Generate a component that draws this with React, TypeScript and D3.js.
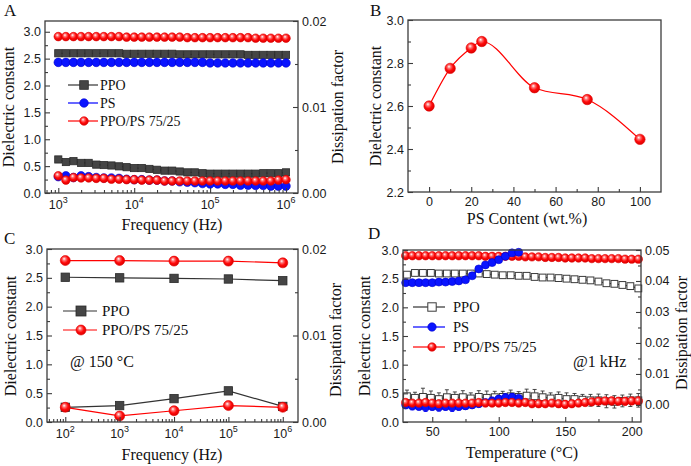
import React, { useEffect, useRef } from 'react';
import * as d3 from 'd3';

// ---- Panel A: room temperature frequency sweep ----
const freqA = [1000, 1259, 1585, 1995, 2512, 3162, 3981, 5012, 6310, 7943,
  10000, 12589, 15849, 19953, 25119, 31623, 39811, 50119, 63096, 79433,
  100000, 125893, 158489, 199526, 251189, 316228, 398107, 501187, 630957, 794328, 1000000];
const dkA_PPO = [2.60, 2.60, 2.60, 2.60, 2.60, 2.60, 2.60, 2.60, 2.60, 2.59, 2.59, 2.59, 2.59, 2.59, 2.59, 2.59,
  2.58, 2.58, 2.58, 2.58, 2.58, 2.58, 2.58, 2.58, 2.58, 2.57, 2.57, 2.57, 2.57, 2.57, 2.57];
const dkA_PS = [2.43, 2.43, 2.43, 2.43, 2.43, 2.43, 2.43, 2.43, 2.43, 2.43, 2.43, 2.43, 2.43, 2.43, 2.43, 2.43,
  2.43, 2.43, 2.43, 2.43, 2.42, 2.42, 2.42, 2.42, 2.42, 2.42, 2.42, 2.42, 2.42, 2.42, 2.42];
const dkA_Blend = [2.91, 2.91, 2.91, 2.91, 2.91, 2.91, 2.91, 2.91, 2.91, 2.90, 2.90, 2.90, 2.90, 2.90, 2.90, 2.90,
  2.90, 2.89, 2.89, 2.89, 2.89, 2.89, 2.89, 2.89, 2.89, 2.89, 2.88, 2.88, 2.88, 2.88, 2.88];
const dfA_PPO = [0.0039, 0.0036, 0.0037, 0.0035, 0.0035, 0.0033, 0.00325, 0.0032, 0.0031, 0.0030, 0.0029, 0.0029,
  0.0028, 0.0027, 0.0026, 0.0026, 0.0025, 0.0024, 0.0024, 0.0023, 0.00225, 0.00225, 0.00225, 0.00225, 0.00225,
  0.00225, 0.00225, 0.0023, 0.0023, 0.0023, 0.0024];
const dfA_PS = [0.0019, 0.0020, 0.0018, 0.0020, 0.0019, 0.0018, 0.00175, 0.00175, 0.0017, 0.0016, 0.00155, 0.00155,
  0.0015, 0.0015, 0.0014, 0.0014, 0.0013, 0.00125, 0.0012, 0.0011, 0.00105, 0.00105, 0.0010, 0.0010, 0.0009,
  0.0009, 0.00088, 0.00088, 0.0008, 0.0008, 0.0008];
const dfA_Blend = [0.0020, 0.0015, 0.0018, 0.00175, 0.00175, 0.0017, 0.0017, 0.0016, 0.0016, 0.00155, 0.00155,
  0.0015, 0.0015, 0.0015, 0.0014, 0.0014, 0.0014, 0.0014, 0.0014, 0.0014, 0.0014, 0.0014, 0.0014, 0.0014, 0.0014,
  0.0014, 0.0014, 0.0014, 0.0014, 0.0015, 0.00155];

// ---- Panel B: dielectric constant vs PS content ----
const psContent = [0, 10, 20, 25, 50, 75, 100];
const dkB = [2.60, 2.775, 2.87, 2.90, 2.685, 2.63, 2.445];

// ---- Panel C: at 150 °C ----
const freqC = [1e2, 1e3, 1e4, 1e5, 1e6];
const dkC_PPO = [2.51, 2.50, 2.49, 2.48, 2.45];
const dkC_Blend = [2.80, 2.80, 2.79, 2.79, 2.76];
const dfC_PPO = [0.0017, 0.0019, 0.0027, 0.0036, 0.0018];
const dfC_Blend = [0.0017, 0.0007, 0.0013, 0.0019, 0.0017];

// ---- Panel D: temperature sweep @1 kHz ----
const tempD_PPO = [31, 37, 43, 49, 55, 61, 67, 73, 79, 85, 91, 97, 103, 109, 115, 121, 127, 133, 139, 145,
  151, 157, 163, 169, 175, 181, 187, 193, 199, 205];
const tempD_PS = [30, 35, 40, 45, 50, 55, 60, 65, 70, 75, 80, 85, 90, 95, 100, 105, 110, 115];
const tempD_Blend = [30, 35, 40, 45, 50, 55, 60, 65, 70, 75, 80, 85, 90, 95, 100, 105, 110, 115, 120, 125,
  130, 135, 140, 145, 150, 155, 160, 165, 170, 175, 180, 185, 190, 195, 200, 205];
const dkD_PPO = [2.57, 2.60, 2.60, 2.60, 2.59, 2.59, 2.59, 2.59, 2.59, 2.59, 2.58, 2.57, 2.56, 2.56, 2.55,
  2.55, 2.53, 2.52, 2.52, 2.51, 2.50, 2.49, 2.48, 2.47, 2.45, 2.42, 2.41, 2.39, 2.37, 2.33];
const dkD_PS = [2.43, 2.43, 2.43, 2.43, 2.43, 2.44, 2.44, 2.45, 2.46, 2.48, 2.55, 2.67, 2.74, 2.78, 2.83,
  2.89, 2.95, 2.96];
const dkD_Blend = [2.90, 2.90, 2.90, 2.90, 2.90, 2.90, 2.90, 2.90, 2.90, 2.90, 2.90, 2.90, 2.89, 2.89, 2.89,
  2.89, 2.89, 2.89, 2.88, 2.88, 2.88, 2.87, 2.87, 2.87, 2.86, 2.86, 2.86, 2.86, 2.85, 2.85, 2.85, 2.85, 2.85,
  2.84, 2.84, 2.84];
const dfD_PPO = [0.0028, 0.0023, 0.0026, 0.0023, 0.0019, 0.0025, 0.0023, 0.0025, 0.0021, 0.0026, 0.0023, 0.0025,
  0.0026, 0.0028, 0.0026, 0.0030, 0.0028, 0.0025, 0.0021, 0.0023, 0.0019, 0.0019, 0.0017, 0.0015, 0.0015,
  0.0012, 0.0010, 0.0013, 0.0015, 0.0015];
const errD_PPO = [0.0020, 0.0018, 0.0028, 0.0022, 0.0020, 0.0024, 0.0019, 0.0021, 0.0018, 0.0020, 0.0022, 0.0019,
  0.0018, 0.0020, 0.0017, 0.0021, 0.0022, 0.0020, 0.0018, 0.0019, 0.0020, 0.0018, 0.0017, 0.0019, 0.0020,
  0.0021, 0.0020, 0.0019, 0.0020, 0.0022];
const dfD_PS = [0.0000, -0.0003, -0.0005, -0.0007, -0.0005, -0.0007, -0.0005, -0.0007, -0.0005, -0.0003,
  0.0000, 0.0004, 0.0008, 0.0013, 0.0019, 0.0023, 0.0025, 0.0021];
const errD_PS = [0.0012, 0.0013, 0.0011, 0.0014, 0.0012, 0.0013, 0.0012, 0.0014, 0.0012, 0.0011, 0.0010,
  0.0011, 0.0010, 0.0012, 0.0011, 0.0013, 0.0012, 0.0011];
const dfD_Blend = [0.0008, 0.0006, 0.0006, 0.0008, 0.0006, 0.0004, 0.0006, 0.0006, 0.0006, 0.0006, 0.0006,
  0.0008, 0.0006, 0.0006, 0.0006, 0.0008, 0.0008, 0.0006, 0.0008, 0.0004, 0.0004, 0.0004, 0.0006, 0.0004,
  0.0002, 0.0004, 0.0006, 0.0008, 0.0010, 0.0012, 0.0013, 0.0013, 0.0012, 0.0012, 0.0013, 0.0013];
const errD_Blend = [0.0009, 0.0008, 0.0009, 0.0008, 0.0009, 0.0010, 0.0008, 0.0009, 0.0008, 0.0009, 0.0008,
  0.0009, 0.0008, 0.0009, 0.0008, 0.0009, 0.0008, 0.0009, 0.0010, 0.0009, 0.0010, 0.0009, 0.0010, 0.0011,
  0.0012, 0.0010, 0.0011, 0.0010, 0.0011, 0.0010, 0.0011, 0.0012, 0.0011, 0.0012, 0.0011, 0.0012];

const SERIF = '"Liberation Serif", "Times New Roman", serif';
const SANS = '"Liberation Sans", Arial, sans-serif';
const FRAME = '#3c3c3c';

type Box = { x0: number; x1: number; y0: number; y1: number };
type Kind = 'sq' | 'sqo' | 'dot' | 'ball';
type G = d3.Selection<SVGGElement, unknown, null, undefined>;

const logMinors = (lo: number, hi: number) => {
  const out: number[] = [];
  for (let e = Math.floor(Math.log10(lo)); e <= Math.ceil(Math.log10(hi)); e++) {
    for (let m = 2; m <= 9; m++) {
      const v = m * Math.pow(10, e);
      if (v >= lo && v <= hi) out.push(v);
    }
  }
  return out;
};

function frame(g: G, b: Box) {
  g.append('rect')
    .attr('x', b.x0).attr('y', b.y0)
    .attr('width', b.x1 - b.x0).attr('height', b.y1 - b.y0)
    .attr('fill', 'none').attr('stroke', FRAME).attr('stroke-width', 1.3);
}

function styleAxis(ax: G) {
  ax.select('.domain').remove();
  ax.attr('font-family', SANS).attr('font-size', 12.5);
  ax.selectAll('line').attr('stroke', FRAME).attr('stroke-width', 1.1);
  ax.selectAll('text').attr('fill', '#1a1a1a');
}

function leftAxis(g: G, y: any, b: Box, ticks: number[], minor: number[], fmt: string) {
  const ax = g.append('g').attr('transform', `translate(${b.x0},0)`)
    .call(d3.axisLeft(y).tickValues(ticks).tickSize(-5).tickPadding(4).tickFormat(d3.format(fmt)) as any);
  styleAxis(ax);
  const mn = g.append('g').attr('transform', `translate(${b.x0},0)`)
    .call(d3.axisLeft(y).tickValues(minor).tickSize(-3).tickFormat(() => '') as any);
  styleAxis(mn);
}

function rightAxis(g: G, y: any, b: Box, ticks: number[], minor: number[], fmt: string) {
  const ax = g.append('g').attr('transform', `translate(${b.x1},0)`)
    .call(d3.axisRight(y).tickValues(ticks).tickSize(-5).tickPadding(4).tickFormat(d3.format(fmt)) as any);
  styleAxis(ax);
  const mn = g.append('g').attr('transform', `translate(${b.x1},0)`)
    .call(d3.axisRight(y).tickValues(minor).tickSize(-3).tickFormat(() => '') as any);
  styleAxis(mn);
}

function bottomAxis(g: G, x: any, b: Box, ticks: number[], minor: number[], fmt: string | null) {
  const ax = g.append('g').attr('transform', `translate(0,${b.y1})`)
    .call(d3.axisBottom(x).tickValues(ticks).tickSize(-5).tickPadding(5)
      .tickFormat(fmt ? (d3.format(fmt) as any) : () => '') as any);
  styleAxis(ax);
  const mn = g.append('g').attr('transform', `translate(0,${b.y1})`)
    .call(d3.axisBottom(x).tickValues(minor).tickSize(-3).tickFormat(() => '') as any);
  styleAxis(mn);
  if (!fmt) {
    // power-of-ten labels with superscripts
    ticks.forEach((t) => {
      const txt = g.append('text')
        .attr('x', x(t)).attr('y', b.y1 + 16)
        .attr('text-anchor', 'middle')
        .attr('font-family', SANS).attr('font-size', 12.5).attr('fill', '#1a1a1a');
      txt.append('tspan').text('10');
      txt.append('tspan').attr('dy', -6).attr('font-size', 9).text(String(Math.round(Math.log10(t))));
    });
  }
}

function addMarker(g: G, kind: Kind, px: number, py: number, r: number) {
  if (kind === 'sq') {
    g.append('rect').attr('x', px - r).attr('y', py - r).attr('width', 2 * r).attr('height', 2 * r)
      .attr('fill', '#454545').attr('stroke', '#2a2a2a').attr('stroke-width', 0.8);
  } else if (kind === 'sqo') {
    g.append('rect').attr('x', px - r).attr('y', py - r).attr('width', 2 * r).attr('height', 2 * r)
      .attr('fill', '#fff').attr('stroke', '#3a3a3a').attr('stroke-width', 1);
  } else if (kind === 'dot') {
    g.append('circle').attr('cx', px).attr('cy', py).attr('r', r)
      .attr('fill', '#0a14ff').attr('stroke', '#0000cc').attr('stroke-width', 0.6);
  } else {
    g.append('circle').attr('cx', px).attr('cy', py).attr('r', r)
      .attr('fill', 'url(#ball)').attr('stroke', '#e00000').attr('stroke-width', 0.6);
  }
}

const STYLE: Record<string, { kind: Kind; color: string; line: string }> = {
  PPO: { kind: 'sq', color: '#333', line: '#333' },
  PPOo: { kind: 'sqo', color: '#333', line: '#333' },
  PS: { kind: 'dot', color: '#0000ff', line: '#0000ff' },
  Blend: { kind: 'ball', color: '#ff0000', line: '#ff0000' },
};

function series(g: G, xs: number[], ys: number[], x: any, y: any, key: string, r: number,
  err?: number[], curve: d3.CurveFactory = d3.curveLinear) {
  const s = STYLE[key];
  const pts: [number, number][] = xs.map((v, i) => [x(v), y(ys[i])]);
  if (err) {
    const eg = g.append('g').attr('stroke', s.color).attr('stroke-width', 0.9);
    xs.forEach((v, i) => {
      const cx = x(v);
      const top = y(ys[i] + err[i]);
      const bot = y(ys[i] - err[i]);
      eg.append('line').attr('x1', cx).attr('x2', cx).attr('y1', top).attr('y2', bot);
      eg.append('line').attr('x1', cx - 2).attr('x2', cx + 2).attr('y1', top).attr('y2', top);
      eg.append('line').attr('x1', cx - 2).attr('x2', cx + 2).attr('y1', bot).attr('y2', bot);
    });
  }
  g.append('path').attr('d', d3.line().curve(curve)(pts))
    .attr('fill', 'none').attr('stroke', s.line).attr('stroke-width', 1.2);
  pts.forEach(([px, py]) => addMarker(g, s.kind, px, py, r));
}

function legend(g: G, items: [string, string][], x0: number, x1: number, mx: number, tx: number,
  ys: number[], r: number, fs: number) {
  items.forEach(([key, label], i) => {
    const s = STYLE[key];
    g.append('line').attr('x1', x0).attr('x2', x1).attr('y1', ys[i]).attr('y2', ys[i])
      .attr('stroke', s.line).attr('stroke-width', 1.2);
    addMarker(g, s.kind, mx, ys[i], r);
    g.append('text').attr('x', tx).attr('y', ys[i]).attr('dy', '0.35em')
      .attr('font-family', SERIF).attr('font-size', fs).attr('fill', '#111').text(label);
  });
}

function label(g: G, text: string, x: number, y: number, size: number, rotate = false,
  anchor = 'middle') {
  g.append('text')
    .attr('transform', rotate ? `translate(${x},${y}) rotate(-90)` : `translate(${x},${y})`)
    .attr('text-anchor', anchor)
    .attr('font-family', SERIF).attr('font-size', size).attr('fill', '#111')
    .text(text);
}

const App: React.FC = () => {
  const svgRef = useRef<SVGSVGElement>(null);

  useEffect(() => {
    if (!svgRef.current) return;
    const svg = d3.select(svgRef.current);
    svg.selectAll('*').remove();

    const grad = svg.append('defs').append('radialGradient').attr('id', 'ball')
      .attr('cx', '0.45').attr('cy', '0.42').attr('r', '0.6').attr('fx', '0.38').attr('fy', '0.32');
    grad.append('stop').attr('offset', '0').attr('stop-color', '#ffffff');
    grad.append('stop').attr('offset', '0.28').attr('stop-color', '#ff7070');
    grad.append('stop').attr('offset', '0.6').attr('stop-color', '#ff0a0a');
    grad.append('stop').attr('offset', '1').attr('stop-color', '#d80000');

    const root = svg.append('g') as unknown as G;

    // ---------- A ----------
    {
      const b: Box = { x0: 45, x1: 298, y0: 21, y1: 193 };
      const g = root.append('g') as G;
      const x = d3.scaleLog().domain([Math.pow(10, 2.825), Math.pow(10, 6.158)]).range([b.x0, b.x1]);
      const y = d3.scaleLinear().domain([0, 3.2]).range([b.y1, b.y0]);
      const y2 = d3.scaleLinear().domain([0, 0.02]).range([b.y1, b.y0]);
      series(g, freqA, dkA_PPO, x, y, 'PPO', 3.6);
      series(g, freqA, dkA_PS, x, y, 'PS', 4.3);
      series(g, freqA, dkA_Blend, x, y, 'Blend', 4.3);
      series(g, freqA, dfA_PPO, x, y2, 'PPO', 3.6);
      series(g, freqA, dfA_PS, x, y2, 'PS', 4.3);
      series(g, freqA, dfA_Blend, x, y2, 'Blend', 4.3);
      frame(g, b);
      leftAxis(g, y, b, [0, 0.5, 1, 1.5, 2, 2.5, 3], [0.25, 0.75, 1.25, 1.75, 2.25, 2.75], '.1f');
      rightAxis(g, y2, b, [0, 0.01, 0.02], [0.005, 0.015], '.2f');
      bottomAxis(g, x, b, [1e3, 1e4, 1e5, 1e6], logMinors(x.domain()[0], x.domain()[1]), null);
      legend(g, [['PPO', 'PPO'], ['PS', 'PS'], ['Blend', 'PPO/PS 75/25']], 68, 98, 84, 100,
        [85, 103, 121], 4.3, 14);
      label(g, 'Dielectric constant', 14, 107, 16, true);
      label(g, 'Dissipation factor', 343, 107, 16, true);
      label(g, 'Frequency (Hz)', 172, 230, 16);
      label(g, 'A', 4, 16, 17, false, 'start');
    }

    // ---------- B ----------
    {
      const b: Box = { x0: 408, x1: 661, y0: 20, y1: 192 };
      const g = root.append('g') as G;
      const x = d3.scaleLinear().domain([-10, 110]).range([b.x0, b.x1]);
      const y = d3.scaleLinear().domain([2.2, 3.0]).range([b.y1, b.y0]);
      series(g, psContent, dkB, x, y, 'Blend', 5.2, undefined, d3.curveMonotoneX);
      frame(g, b);
      leftAxis(g, y, b, [2.2, 2.4, 2.6, 2.8, 3.0], [2.3, 2.5, 2.7, 2.9], '.1f');
      bottomAxis(g, x, b, [0, 20, 40, 60, 80, 100], [10, 30, 50, 70, 90], 'd');
      label(g, 'Dielectric constant', 381, 106, 16, true);
      label(g, 'PS Content (wt.%)', 527, 224, 16);
      label(g, 'B', 370, 16, 17, false, 'start');
    }

    // ---------- C ----------
    {
      const b: Box = { x0: 47, x1: 298, y0: 249, y1: 422 };
      const g = root.append('g') as G;
      const x = d3.scaleLog().domain([Math.pow(10, 1.664), Math.pow(10, 6.28)]).range([b.x0, b.x1]);
      const y = d3.scaleLinear().domain([0, 3]).range([b.y1, b.y0]);
      const y2 = d3.scaleLinear().domain([0, 0.02]).range([b.y1, b.y0]);
      series(g, freqC, dkC_PPO, x, y, 'PPO', 4.2);
      series(g, freqC, dkC_Blend, x, y, 'Blend', 5);
      series(g, freqC, dfC_PPO, x, y2, 'PPO', 4.2);
      series(g, freqC, dfC_Blend, x, y2, 'Blend', 5);
      frame(g, b);
      leftAxis(g, y, b, [0, 0.5, 1, 1.5, 2, 2.5, 3], [0.25, 0.75, 1.25, 1.75, 2.25, 2.75], '.1f');
      rightAxis(g, y2, b, [0, 0.01, 0.02], [0.005, 0.015], '.2f');
      bottomAxis(g, x, b, [1e2, 1e3, 1e4, 1e5, 1e6], logMinors(x.domain()[0], x.domain()[1]), null);
      legend(g, [['PPO', 'PPO'], ['Blend', 'PPO/PS 75/25']], 63, 97, 81, 102, [311, 330], 5, 15);
      g.append('text').attr('x', 70).attr('y', 367).attr('font-family', SERIF).attr('font-size', 16)
        .attr('fill', '#111').text('@ 150 °C');
      label(g, 'Dielectric constant', 16, 336, 16, true);
      label(g, 'Dissipation factor', 341, 340, 16, true);
      label(g, 'Frequency (Hz)', 172, 460, 16);
      label(g, 'C', 4, 244, 17, false, 'start');
    }

    // ---------- D ----------
    {
      const b: Box = { x0: 403, x1: 641, y0: 250, y1: 422 };
      const g = root.append('g') as G;
      const x = d3.scaleLinear().domain([28, 207]).range([b.x0, b.x1]);
      const y = d3.scaleLinear().domain([0, 3]).range([b.y1, b.y0]);
      const y2 = d3.scaleLinear().domain([-0.0055, 0.05]).range([b.y1, b.y0]);
      series(g, tempD_PPO, dfD_PPO, x, y2, 'PPOo', 3.4, errD_PPO);
      series(g, tempD_PS, dfD_PS, x, y2, 'PS', 4, errD_PS);
      series(g, tempD_Blend, dfD_Blend, x, y2, 'Blend', 4.2, errD_Blend);
      series(g, tempD_PPO, dkD_PPO, x, y, 'PPOo', 3.4);
      series(g, tempD_Blend, dkD_Blend, x, y, 'Blend', 4.2);
      series(g, tempD_PS, dkD_PS, x, y, 'PS', 4);
      frame(g, b);
      leftAxis(g, y, b, [0, 0.5, 1, 1.5, 2, 2.5, 3], [0.25, 0.75, 1.25, 1.75, 2.25, 2.75], '.1f');
      rightAxis(g, y2, b, [0, 0.01, 0.02, 0.03, 0.04, 0.05], [0.005, 0.015, 0.025, 0.035, 0.045], '.2f');
      bottomAxis(g, x, b, [50, 100, 150, 200], [75, 125, 175], 'd');
      legend(g, [['PPOo', 'PPO'], ['PS', 'PS'], ['Blend', 'PPO/PS 75/25']], 413, 445, 432, 453,
        [307, 327, 347], 4.2, 14.5);
      g.append('text').attr('x', 573).attr('y', 367).attr('font-family', SERIF).attr('font-size', 16)
        .attr('fill', '#111').text('@1 kHz');
      label(g, 'Dielectric constant', 370, 336, 16, true);
      label(g, 'Dissipation factor', 687, 333, 16, true);
      label(g, 'Temperature (°C)', 522, 458, 16);
      label(g, 'D', 368, 239, 17, false, 'start');
    }
  }, []);

  return (
    <svg
      ref={svgRef}
      width={691}
      height={466}
      viewBox="0 0 691 466"
      style={{ position: 'absolute', left: 0, top: 0, background: '#fff' }}
    />
  );
};

export default App;
